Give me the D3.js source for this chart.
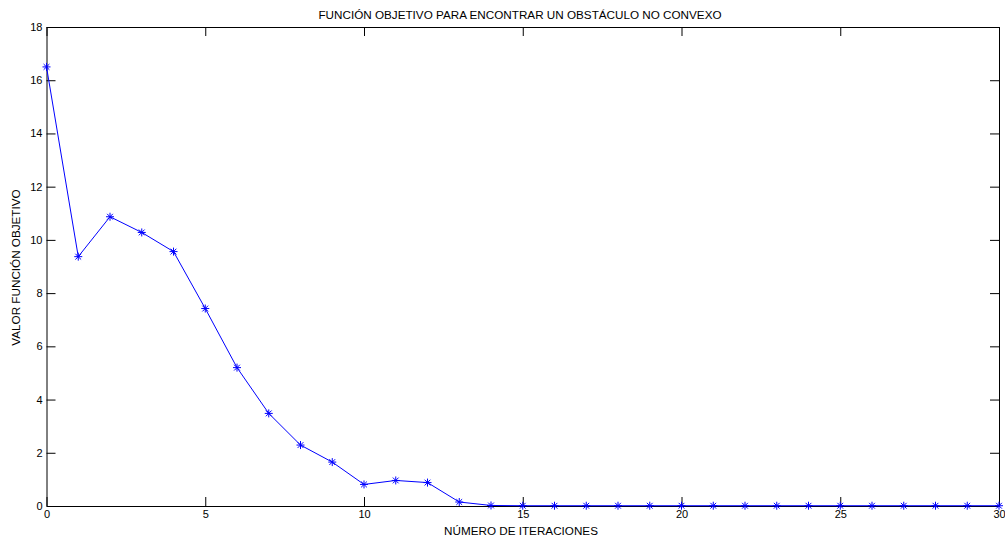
<!DOCTYPE html>
<html>
<head>
<meta charset="utf-8">
<script src="https://cdn.jsdelivr.net/npm/d3@7"></script>
<style>
  html, body { margin: 0; padding: 0; background: #fff; }
  svg { display: block; }
  text { font-family: "Liberation Sans", Arial, sans-serif; fill: #000; }
</style>
</head>
<body>
<svg id="chart" width="1005" height="539"></svg>
<script>
// Iteration index and objective value per iteration
const iterations = d3.range(0, 31);
const objectiveValues = [
  16.5, 9.37, 10.87, 10.28, 9.56, 7.42, 5.20, 3.48, 2.29, 1.65,
  0.81, 0.96, 0.88, 0.15, 0.02, 0.01, 0.01, 0.01, 0.01, 0.01,
  0.01, 0.01, 0.01, 0.01, 0.01, 0.01, 0.01, 0.01, 0.01, 0.01, 0.01
];
const xTicks = [0, 5, 10, 15, 20, 25, 30];
const yTicks = [0, 2, 4, 6, 8, 10, 12, 14, 16, 18];

const titleText = "FUNCIÓN OBJETIVO PARA ENCONTRAR UN OBSTÁCULO NO CONVEXO";
const xLabelText = "NÚMERO DE ITERACIONES";
const yLabelText = "VALOR FUNCIÓN OBJETIVO";

const svg = d3.select("#chart");
const plotLeft = 46.5, plotRight = 999, plotTop = 27, plotBottom = 506;

const x = d3.scaleLinear().domain([0, 30]).range([plotLeft, plotRight]);
const y = d3.scaleLinear().domain([0, 18]).range([plotBottom, plotTop]);
const tickLen = 9;
const fontSize = 11;
const labelSize = 11.7;

// Axes: ticks point inward on all four sides of the box
const axisStyle = g => {
  g.select(".domain").attr("stroke", "#000").attr("stroke-width", 1);
  g.selectAll(".tick line").attr("stroke", "#000").attr("stroke-width", 1);
  g.selectAll(".tick text").attr("font-size", fontSize)
    .attr("font-family", "Liberation Sans, Arial, sans-serif").attr("fill", "#222");
};

svg.append("g").attr("transform", `translate(0,${plotBottom})`)
  .call(d3.axisBottom(x).tickValues(xTicks).tickSizeInner(-tickLen).tickSizeOuter(0).tickPadding(4))
  .call(axisStyle);
svg.append("g").attr("transform", `translate(0,${plotTop})`)
  .call(d3.axisTop(x).tickValues(xTicks).tickSizeInner(-tickLen).tickSizeOuter(0).tickFormat(""))
  .call(axisStyle);
svg.append("g").attr("transform", `translate(${plotLeft},0)`)
  .call(d3.axisLeft(y).tickValues(yTicks).tickSizeInner(-tickLen).tickSizeOuter(0).tickPadding(4))
  .call(axisStyle);
svg.append("g").attr("transform", `translate(${plotRight},0)`)
  .call(d3.axisRight(y).tickValues(yTicks).tickSizeInner(-tickLen).tickSizeOuter(0).tickFormat(""))
  .call(axisStyle);

// Objective curve
const data = iterations.map((it, i) => ({ it, v: objectiveValues[i] }));
svg.append("path")
  .datum(data)
  .attr("fill", "none")
  .attr("stroke", "#0000ff")
  .attr("stroke-width", 1)
  .attr("d", d3.line().x(d => x(d.it)).y(d => y(d.v)));

// Asterisk markers (plus + cross)
const starPath = r => {
  const p = d3.path();
  const d = r * 0.72;
  p.moveTo(-r, 0); p.lineTo(r, 0);
  p.moveTo(0, -r); p.lineTo(0, r);
  p.moveTo(-d, -d); p.lineTo(d, d);
  p.moveTo(-d, d); p.lineTo(d, -d);
  return p.toString();
};
svg.append("g").selectAll("path")
  .data(data)
  .join("path")
  .attr("transform", d => `translate(${x(d.it)},${y(d.v)})`)
  .attr("d", starPath(4))
  .attr("fill", "none")
  .attr("stroke", "#0000ff")
  .attr("stroke-width", 1);

// Titles
svg.append("text")
  .attr("x", 520).attr("y", 19)
  .attr("text-anchor", "middle").attr("font-size", labelSize)
  .text(titleText);
svg.append("text")
  .attr("x", 521).attr("y", 535)
  .attr("text-anchor", "middle").attr("font-size", labelSize)
  .text(xLabelText);
svg.append("text")
  .attr("transform", `translate(20,${(plotTop + plotBottom) / 2 + 1}) rotate(-90)`)
  .attr("text-anchor", "middle").attr("font-size", labelSize)
  .text(yLabelText);
</script>
</body>
</html>
